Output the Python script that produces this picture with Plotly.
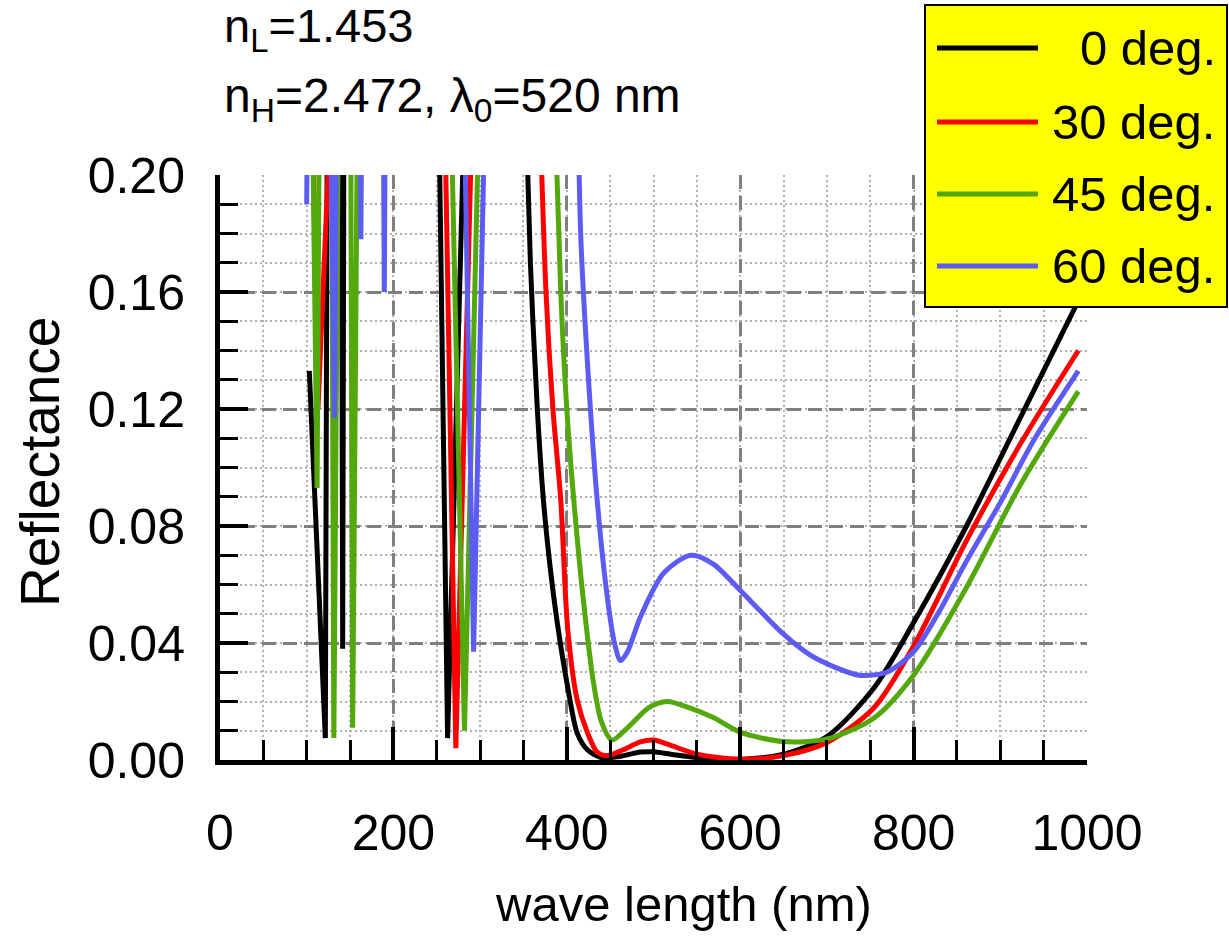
import plotly.graph_objects as go

# Reflectance of the multilayer stack vs. wavelength for four incidence angles.
# Values above 0.20 lie outside the plotted range and are clipped by the axes.
wl_0deg = [103, 121.5, 124.5, 139.5, 141.5, 143.5, 248.8, 262.5, 289,
           348, 358, 366, 373, 380, 389, 401, 412, 424, 440, 460, 485, 500, 520,
           560, 600, 650, 700, 754, 800, 861, 923, 990]
r_0deg = [0.133, 0.0075, 0.30, 0.30, 0.038, 0.30, 0.30, 0.0075, 0.30,
          0.27, 0.17, 0.12, 0.089, 0.068, 0.047, 0.025, 0.0092, 0.0034, 0.0008, 0.0012, 0.0027, 0.0028, 0.002,
          0.0005, 0.0002, 0.002, 0.008, 0.0245, 0.047, 0.080, 0.117, 0.157]

wl_30deg = [101.5, 113, 139, 254.6, 272, 297.7,
            364, 376, 384, 393, 401, 412, 424, 435, 447, 465, 485, 500, 520,
            550, 600, 650, 700, 754, 800, 861, 923, 990]
r_30deg = [0.30, 0.12, 0.30, 0.30, 0.004, 0.30,
           0.27, 0.16, 0.12, 0.089, 0.045, 0.0205, 0.0092, 0.0027, 0.0015, 0.0035, 0.0062, 0.0068, 0.005,
           0.002, 0.0003, 0.0015, 0.006, 0.0178, 0.039, 0.075, 0.108, 0.140]

wl_45deg = [103.4, 112, 116, 127.8, 131.3, 138.4, 149.9, 153, 160.6, 260.7, 282, 304.9,
            381, 393, 400, 408, 419, 431, 440, 452, 470, 495, 516, 540,
            569, 600, 650, 700, 754, 800, 861, 923, 990]
r_45deg = [0.30, 0.093, 0.30, 0.30, 0.0075, 0.30, 0.30, 0.011, 0.30, 0.30, 0.010, 0.30,
           0.27, 0.16, 0.12, 0.089, 0.055, 0.026, 0.013, 0.0068, 0.011, 0.018, 0.020, 0.018,
           0.0145, 0.0095, 0.0063, 0.0072, 0.0143, 0.029, 0.059, 0.094, 0.126]

wl_60deg = [100, 103, 124.3, 132, 136.4, 160, 162.5, 165, 187, 189.5, 192, 277.2, 292.5, 311,
            411, 416, 424, 435, 447, 455, 462, 470, 485, 512, 543,
            569, 600, 623, 650, 680, 707, 737, 769, 800, 830, 861, 900, 938, 990]
r_60deg = [0.19, 0.30, 0.30, 0.117, 0.30, 0.30, 0.178, 0.30, 0.30, 0.16, 0.30, 0.30, 0.037, 0.30,
           0.26, 0.18, 0.135, 0.089, 0.055, 0.040, 0.034, 0.037, 0.049, 0.064, 0.070,
           0.067, 0.058, 0.051, 0.043, 0.036, 0.032, 0.029, 0.030, 0.037, 0.051, 0.068, 0.088, 0.109, 0.133]

angle_labels = ["0 deg.", "30 deg.", "45 deg.", "60 deg."]
line_colors = ["#000000", "#ff0000", "#52a80c", "#5c5cf2"]
series = [(wl_0deg, r_0deg), (wl_30deg, r_30deg), (wl_45deg, r_45deg), (wl_60deg, r_60deg)]

x_ticks = [0, 200, 400, 600, 800, 1000]
y_ticks = [0.00, 0.04, 0.08, 0.12, 0.16, 0.20]

FONT = "Liberation Sans, Arial, sans-serif"
SPLIT_NM = 340  # sharp UV dips drawn straight, the smooth band as a spline

fig = go.Figure()
for (wl, r), name, color in zip(series, angle_labels, line_colors):
    uv = [i for i, w in enumerate(wl) if w < SPLIT_NM]
    vis = [i for i, w in enumerate(wl) if w >= SPLIT_NM]
    fig.add_trace(go.Scatter(x=[wl[i] for i in uv], y=[r[i] for i in uv], mode="lines",
                             line=dict(color=color, width=5), name=name, showlegend=False))
    fig.add_trace(go.Scatter(x=[wl[i] for i in vis], y=[r[i] for i in vis], mode="lines",
                             line=dict(color=color, width=5, shape="spline", smoothing=0.8),
                             name=name, showlegend=False))

fig.update_layout(
    width=1229, height=938,
    margin=dict(l=220, r=142, t=175, b=178),
    paper_bgcolor="white", plot_bgcolor="white",
    font=dict(family=FONT, size=50, color="black"),
    showlegend=False,
)

fig.update_xaxes(
    range=[0, 1000], tickvals=x_ticks, ticktext=[str(v) for v in x_ticks],
    ticks="inside", ticklen=33, tickwidth=4, tickcolor="black",
    showline=True, linewidth=5, linecolor="black", zeroline=False,
    showgrid=True, gridcolor="#808080", gridwidth=3, griddash="14px,7px",
    ticklabelstandoff=25, tickfont=dict(size=50),
    minor=dict(dtick=50, ticks="inside", ticklen=20, tickwidth=3, tickcolor="black",
               showgrid=True, gridcolor="#b0b0b0", gridwidth=1.5, griddash="2px,3px"),
)
fig.update_yaxes(
    range=[0, 0.2], tickvals=y_ticks, ticktext=[f"{v:.2f}" for v in y_ticks],
    ticks="inside", ticklen=28, tickwidth=4, tickcolor="black",
    showline=True, linewidth=5, linecolor="black", zeroline=False,
    showgrid=True, gridcolor="#808080", gridwidth=3, griddash="14px,7px",
    ticklabelstandoff=20, tickfont=dict(size=50),
    minor=dict(dtick=0.01, ticks="inside", ticklen=18, tickwidth=3, tickcolor="black",
               showgrid=True, gridcolor="#b0b0b0", gridwidth=1.5, griddash="2px,3px"),
)

# plot-area pixel helpers for the paper-coordinate decorations
PX0, PX1, PY0, PY1 = 220, 1087, 175, 760
def px(x):
    return (x - PX0) / (PX1 - PX0)
def py(y):
    return (PY1 - y) / (PY1 - PY0)

annotations = [
    dict(text="n<sub>L</sub>=1.453", x=px(222), y=py(29), xanchor="left", yanchor="middle",
         font=dict(size=47)),
    dict(text="n<sub>H</sub>=2.472, λ<sub>0</sub>=520 nm", x=px(222), y=py(99),
         xanchor="left", yanchor="middle", font=dict(size=48)),
    dict(text="wave length (nm)", x=px(683), y=py(904), xanchor="center", yanchor="middle",
         font=dict(size=49)),
    dict(text="Reflectance", x=px(40), y=py(462), xanchor="center", yanchor="middle",
         textangle=-90, font=dict(size=55)),
]

# legend box
shapes = [dict(type="rect", xref="paper", yref="paper", x0=px(925), x1=px(1227),
               y0=py(307), y1=py(5), fillcolor="#ffff00", line=dict(color="black", width=2),
               layer="above")]
row_y = [48, 122, 194, 266]
for name, color, ry in zip(angle_labels, line_colors, row_y):
    shapes.append(dict(type="line", xref="paper", yref="paper", x0=px(937), x1=px(1038),
                       y0=py(ry), y1=py(ry), line=dict(color=color, width=5), layer="above"))
    annotations.append(dict(text=name, x=px(1218), y=py(ry), xanchor="right", yanchor="middle",
                            font=dict(size=49)))

for a in annotations:
    a.update(xref="paper", yref="paper", showarrow=False)
fig.update_layout(annotations=annotations, shapes=shapes)

fig.write_html("out.html")
